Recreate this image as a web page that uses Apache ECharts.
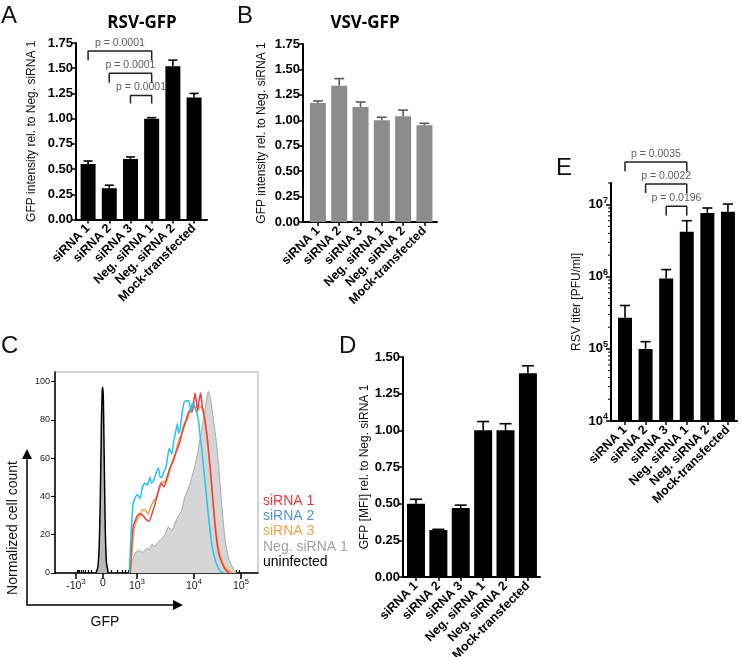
<!DOCTYPE html>
<html>
<head>
<meta charset="utf-8">
<script src="https://cdn.jsdelivr.net/npm/echarts@6/dist/echarts.min.js"></script>
<style>
  html, body { margin: 0; padding: 0; background: #fff; }
  #main { width: 742px; height: 657px; }
</style>
</head>
<body>
<div id="main"></div>
<script>
// ---- data ----
const cats = ['siRNA 1', 'siRNA 2', 'siRNA 3', 'Neg. siRNA 1', 'Neg. siRNA 2', 'Mock-transfected'];

// A: RSV-GFP intensity
const rsvGfp = [0.55, 0.31, 0.60, 1.00, 1.52, 1.21];
const rsvGfpErr = [0.58, 0.34, 0.62, 1.01, 1.58, 1.25];
const pTextA = ['p = 0.0001', 'p = 0.0001', 'p = 0.0001'];
const pFromA = [0, 1, 2];
const pTopA = [1.67, 1.45, 1.23];
const pLegA = [1.58, 1.355, 1.15];

// B: VSV-GFP intensity
const vsvGfp = [1.17, 1.34, 1.13, 1.00, 1.04, 0.95];
const vsvGfpErr = [1.19, 1.41, 1.18, 1.03, 1.10, 0.97];

// D: GFP MFI
const mfi = [0.50, 0.32, 0.47, 1.00, 1.00, 1.39];
const mfiErr = [0.53, 0.325, 0.49, 1.06, 1.045, 1.44];

// E: RSV titer (PFU/ml)
const titer = [2.7e5, 1.0e5, 9.5e5, 4.2e6, 7.7e6, 8.0e6];
const titerErr = [4.0e5, 1.26e5, 1.26e6, 6.0e6, 9.0e6, 1.02e7];
const pTextE = ['p = 0.0035', 'p = 0.0022', 'p = 0.0196'];
const pFromE = [0, 1, 2];
const pTopE = [3.9e7, 1.93e7, 9.5e6];
const pLegE = [2.9e7, 1.45e7, 7.1e6];
const titerTicks = [1e4, 1e5, 1e6, 1e7];
const titerExp = ['4', '5', '6', '7'];

// C: histograms, x in display channels (0..1015), y = normalized count
const histUninf = [[205,0],[214,3],[221,14],[227,42],[232,78],[236,95],[239,97],[242,90],[246,60],[251,25],[257,6],[266,0]];
const histNeg = [[372,0],[385,6],[400,10],[417,12],[430,11],[442,11],[459,13],[472,12],[484,15],[500,14],[512,16],[525,17],[540,19],[550,20],[567,24],[584,22],[600,26],[617,30],[634,33],[650,40],[667,44],[684,50],[700,56],[717,65],[734,75],[750,85],[767,95],[779,90],[792,80],[805,70],[819,55],[834,35],[850,18],[867,8],[892,2],[909,0]];
const histSi1 = [[376,0],[383,15],[392,25],[400,27],[412,30],[425,31],[440,30],[455,28],[470,27],[485,31],[500,36],[515,42],[530,47],[545,45],[560,50],[575,55],[590,58],[605,63],[620,67],[635,73],[650,78],[665,83],[675,85],[685,84],[692,88],[700,94],[706,90],[713,85],[720,90],[728,94],[735,88],[750,80],[767,65],[784,45],[800,25],[815,12],[825,8],[840,4],[850,2],[870,0]];
const histSi2 = [[372,0],[380,20],[390,36],[400,39],[412,41],[425,39],[438,45],[450,47],[462,46],[475,50],[482,47],[492,48],[505,52],[517,55],[526,50],[534,50],[545,53],[555,55],[565,62],[572,65],[584,62],[592,68],[600,72],[612,78],[618,73],[625,75],[635,83],[645,89],[655,90],[667,90],[675,87],[680,84],[687,89],[695,88],[705,85],[717,80],[725,72],[734,65],[742,56],[750,48],[767,30],[784,15],[800,7],[815,3],[825,1],[842,0]];
const histSi3 = [[378,0],[386,12],[394,22],[400,25],[412,28],[425,30],[438,33],[450,33],[465,31],[480,35],[495,38],[510,40],[525,45],[540,48],[555,47],[570,52],[585,58],[600,62],[615,68],[630,72],[645,78],[660,80],[675,85],[690,89],[700,86],[710,84],[720,86],[730,87],[745,82],[760,70],[775,55],[790,38],[805,22],[825,10],[850,3],[885,0]];
const gfpMajor = [-1000, 0, 1000, 10000, 100000];
const gfpMajorLabels = ['-10{s|3}', '0', '10{s|3}', '10{s|4}', '10{s|5}'];
const gfpMinor = [-900,-800,-700,-600,-500,-400,-300,-200,-100,100,200,300,400,500,600,700,800,900,
  2000,3000,4000,5000,6000,7000,8000,9000,20000,30000,40000,50000,60000,70000,80000,90000];
const countTicks = [0, 20, 40, 60, 80, 100];
const legendNames = ['siRNA 1', 'siRNA 2', 'siRNA 3', 'Neg. siRNA 1', 'uninfected'];
const legendColors = ['#e8383e', '#5a8fd8', '#f5a04a', '#a3a3a3', '#000'];

// biexponential-ish display transform for the flow axis
function gfpToCh(v) {
  const a = Math.abs(v);
  const k = Math.asinh(a / 150) / Math.asinh(1000 / 150);
  if (v < 0) return 240 - 135 * k;
  if (a <= 1000) return 240 + 170 * k;
  if (v <= 10000) return 410 + 285 * Math.log10(v / 1000);
  return 695 + 235 * Math.log10(v / 10000);
}

const FONT = 'Liberation Sans';
const chart = echarts.init(document.getElementById('main'));

function barX(grid, min, max) {
  const idx = cats.map((c, i) => i);
  return {
    type: 'value', gridIndex: grid, min: min, max: max,
    axisLine: { show: true, onZero: false, lineStyle: { color: '#000', width: 2 } },
    axisTick: { show: true, customValues: idx, length: 4, lineStyle: { color: '#000', width: 1.5 } },
    axisLabel: { customValues: idx, formatter: v => cats[Math.round(v)], rotate: 45, margin: 7,
      fontFamily: FONT, fontWeight: 'bold', fontSize: 12.5, color: '#000' },
    splitLine: { show: false }
  };
}

function barY(grid, max, name, gap) {
  return {
    type: 'value', gridIndex: grid, min: 0, max: max, interval: 0.25,
    name: name, nameLocation: 'middle', nameGap: gap,
    nameTextStyle: { fontFamily: FONT, fontSize: 12, color: '#111' },
    axisLine: { show: true, onZero: false, lineStyle: { color: '#000', width: 2 } },
    axisTick: { show: true, length: 4, lineStyle: { color: '#000', width: 1.5 } },
    axisLabel: { formatter: v => v.toFixed(2), margin: 3, fontFamily: FONT, fontWeight: 'bold', fontSize: 13, color: '#000' },
    splitLine: { show: false }
  };
}

function bars(ax, vals, color, width) {
  return { type: 'bar', xAxisIndex: ax, yAxisIndex: ax, data: vals.map((v, i) => [i, v]),
    barWidth: width, itemStyle: { color: color }, z: 2 };
}

function errs(xi, yi, vals, tops, color, cap) {
  return {
    type: 'custom', xAxisIndex: xi, yAxisIndex: yi, z: 3,
    data: vals.map((v, i) => [i, v, tops[i]]),
    renderItem: function (params, api) {
      const x = api.value(0);
      const p0 = api.coord([x, api.value(1)]);
      const p1 = api.coord([x, api.value(2)]);
      return { type: 'group', children: [
        { type: 'line', shape: { x1: p0[0], y1: p0[1], x2: p1[0], y2: p1[1] }, style: { stroke: color, lineWidth: 1.6 } },
        { type: 'line', shape: { x1: p1[0] - cap / 2, y1: p1[1], x2: p1[0] + cap / 2, y2: p1[1] }, style: { stroke: color, lineWidth: 1.6 } }
      ] };
    }
  };
}

function brackets(xi, yi, from, tops, legs, texts) {
  const out = from.map((f, k) => ({
    type: 'line', xAxisIndex: xi, yAxisIndex: yi, clip: false, symbol: 'none', silent: true,
    data: [[f, legs[k]], [f, tops[k]], [3, tops[k]], [3, legs[k]]],
    lineStyle: { color: '#222', width: 1.5 }
  }));
  out.push({
    type: 'scatter', xAxisIndex: xi, yAxisIndex: yi, clip: false, symbolSize: 1, silent: true,
    itemStyle: { color: 'rgba(0,0,0,0)' },
    data: from.map((f, k) => ({ value: [(f + 3) / 2, tops[k]], name: texts[k] })),
    label: { show: true, position: 'top', distance: 2, formatter: '{b}', fontFamily: FONT, fontSize: 10.5, color: '#333' }
  });
  return out;
}

// short outward ticks on the left edge of the log axis (2..9 per decade)
function minorLogTicks(xi, yi, xLeft, vals) {
  return {
    type: 'custom', xAxisIndex: xi, yAxisIndex: yi, clip: false, silent: true, z: 4,
    data: vals.map(v => [xLeft, v]),
    renderItem: function (params, api) {
      const p = api.coord([api.value(0), api.value(1)]);
      return { type: 'line', shape: { x1: p[0] - 3, y1: p[1], x2: p[0], y2: p[1] }, style: { stroke: '#000', lineWidth: 1 } };
    }
  };
}

function hist(data, color, width, area, z) {
  const s = { type: 'line', xAxisIndex: 2, yAxisIndex: 2, data: data, symbol: 'none', smooth: 0.2, z: z,
    lineStyle: { color: color, width: width } };
  if (area) s.areaStyle = { color: area, opacity: 1 };
  return s;
}

const majorCh = gfpMajor.map(gfpToCh);
const minorCh = gfpMinor.map(gfpToCh);
const titerMinor = [];
for (let d = 4; d <= 7; d++) for (let k = 2; k <= 9; k++) if (k * Math.pow(10, d) <= 2e7) titerMinor.push(k * Math.pow(10, d));
const supRich = { s: { fontSize: 8, padding: [0, 0, 8, 0] } };

const grids = [
  { left: 76, top: 43, width: 131, height: 176.5 },   // A
  { left: 303, top: 44, width: 134, height: 178 },    // B
  { left: 55, top: 372, width: 203, height: 201, show: true, borderColor: '#a8a8a8', borderWidth: 1 }, // C
  { left: 403, top: 357, width: 137, height: 220 },   // D
  { left: 611, top: 183, width: 126, height: 238 }    // E
].map(g => Object.assign({ containLabel: false, outerBoundsMode: 'none' }, g));

const xAxes = [
  barX(0, -0.57, 5.61),
  barX(1, -0.70, 5.59),
  {
    type: 'value', gridIndex: 2, min: 0, max: 1015,
    axisLine: { show: true, onZero: false, lineStyle: { color: '#000', width: 1.5 } },
    axisTick: { show: true, customValues: majorCh, length: 6, lineStyle: { color: '#000', width: 1.5 } },
    axisLabel: { customValues: majorCh, formatter: v => gfpMajorLabels[majorCh.indexOf(v)], margin: 5,
      fontFamily: FONT, fontSize: 10.5, color: '#222', rich: supRich },
    splitLine: { show: false }
  },
  barX(3, -0.58, 5.54),
  barX(4, -0.68, 5.44),
  {
    type: 'value', gridIndex: 2, min: 0, max: 1015,
    axisLine: { show: false },
    axisTick: { show: true, customValues: minorCh, length: 3, lineStyle: { color: '#000', width: 1.2 } },
    axisLabel: { show: false }, splitLine: { show: false }
  }
];

const yAxes = [
  barY(0, 1.75, 'GFP intensity rel. to Neg. siRNA 1', 38),
  barY(1, 1.75, 'GFP intensity rel. to Neg. siRNA 1', 35),
  {
    type: 'value', gridIndex: 2, min: 0, max: 105,
    axisLine: { show: true, onZero: false, lineStyle: { color: '#000', width: 1.5 } },
    axisTick: { show: true, customValues: countTicks, length: 4, lineStyle: { color: '#000' } },
    axisLabel: { customValues: countTicks, margin: 5, fontFamily: FONT, fontSize: 9, color: '#222' },
    splitLine: { show: false }
  },
  barY(3, 1.5, 'GFP [MFI] rel. to Neg. siRNA 1', 26),
  {
    type: 'log', gridIndex: 4, min: 1e4, max: 2e7, logBase: 10,
    name: 'RSV titer [PFU/ml]', nameLocation: 'middle', nameGap: 28,
    nameTextStyle: { fontFamily: FONT, fontSize: 12, color: '#111' },
    axisLine: { show: true, onZero: false, lineStyle: { color: '#000', width: 2 } },
    axisTick: { show: true, customValues: titerTicks, length: 5, lineStyle: { color: '#000', width: 1.5 } },
    axisLabel: { customValues: titerTicks, formatter: v => '10{s|' + titerExp[titerTicks.indexOf(v)] + '}', margin: 3,
      fontFamily: FONT, fontWeight: 'bold', fontSize: 13, color: '#000',
      rich: { s: { fontSize: 9, fontWeight: 'bold', padding: [0, 0, 8, 0] } } },
    splitLine: { show: false }, minorTick: { show: false }
  }
];

const txt = (t, x, y, size, extra) => ({ type: 'text', x: x, y: y, silent: true,
  style: Object.assign({ text: t, fontFamily: FONT, fontSize: size, fill: '#111', align: 'left', verticalAlign: 'middle' }, extra || {}) });

const graphics = [
  txt('A', 1, 16, 24), txt('B', 237, 16, 24), txt('C', 1, 346, 24), txt('D', 339, 346, 24), txt('E', 556, 168, 24),
  txt('RSV-GFP', 142, 23, 17, { fontFamily: 'Open Sans', fontWeight: 'bold', align: 'center', fill: '#000' }),
  txt('VSV-GFP', 365, 23, 17, { fontFamily: 'Open Sans', fontWeight: 'bold', align: 'center', fill: '#000' }),
  // flow plot arrows and axis titles
  { type: 'polyline', silent: true, shape: { points: [[27, 455], [27, 605], [176, 605]] }, style: { stroke: '#000', lineWidth: 1.5, fill: null } },
  { type: 'polygon', silent: true, shape: { points: [[22, 459], [27, 449], [32, 459]] }, style: { fill: '#000' } },
  { type: 'polygon', silent: true, shape: { points: [[173, 600], [183, 605], [173, 610]] }, style: { fill: '#000' } },
  { type: 'text', silent: true, x: 13, y: 528, rotation: Math.PI / 2,
    style: { text: 'Normalized cell count', fontFamily: FONT, fontSize: 14, fill: '#111', align: 'center', verticalAlign: 'middle' } },
  txt('GFP', 105, 622, 14, { align: 'center' })
];
legendNames.forEach((n, i) => graphics.push(txt(n, 263, 501 + i * 15.3, 14, { fill: legendColors[i] })));

const series = [
  bars(0, rsvGfp, '#000', 15), errs(0, 0, rsvGfp, rsvGfpErr, '#000', 9),
  ...brackets(0, 0, pFromA, pTopA, pLegA, pTextA),
  bars(1, vsvGfp, '#8c8c8c', 16), errs(1, 1, vsvGfp, vsvGfpErr, '#5a5a5a', 10),
  bars(3, mfi, '#000', 18), errs(3, 3, mfi, mfiErr, '#000', 12),
  bars(4, titer, '#000', 14), errs(4, 4, titer, titerErr, '#000', 10),
  minorLogTicks(4, 4, -0.68, titerMinor),
  ...brackets(4, 4, pFromE, pTopE, pLegE, pTextE),
  hist(histNeg, '#a6a6a6', 1, '#d6d6d6', 2),
  hist(histUninf, '#000', 1.5, '#b8b8b8', 3),
  hist(histSi3, '#f6a04a', 1.5, null, 4),
  hist(histSi1, '#ee3f45', 1.5, null, 5),
  hist(histSi2, '#22c6e8', 1.5, null, 6)
];

chart.setOption({
  animation: false,
  grid: grids,
  xAxis: xAxes,
  yAxis: yAxes,
  graphic: graphics,
  series: series
});
</script>
</body>
</html>
